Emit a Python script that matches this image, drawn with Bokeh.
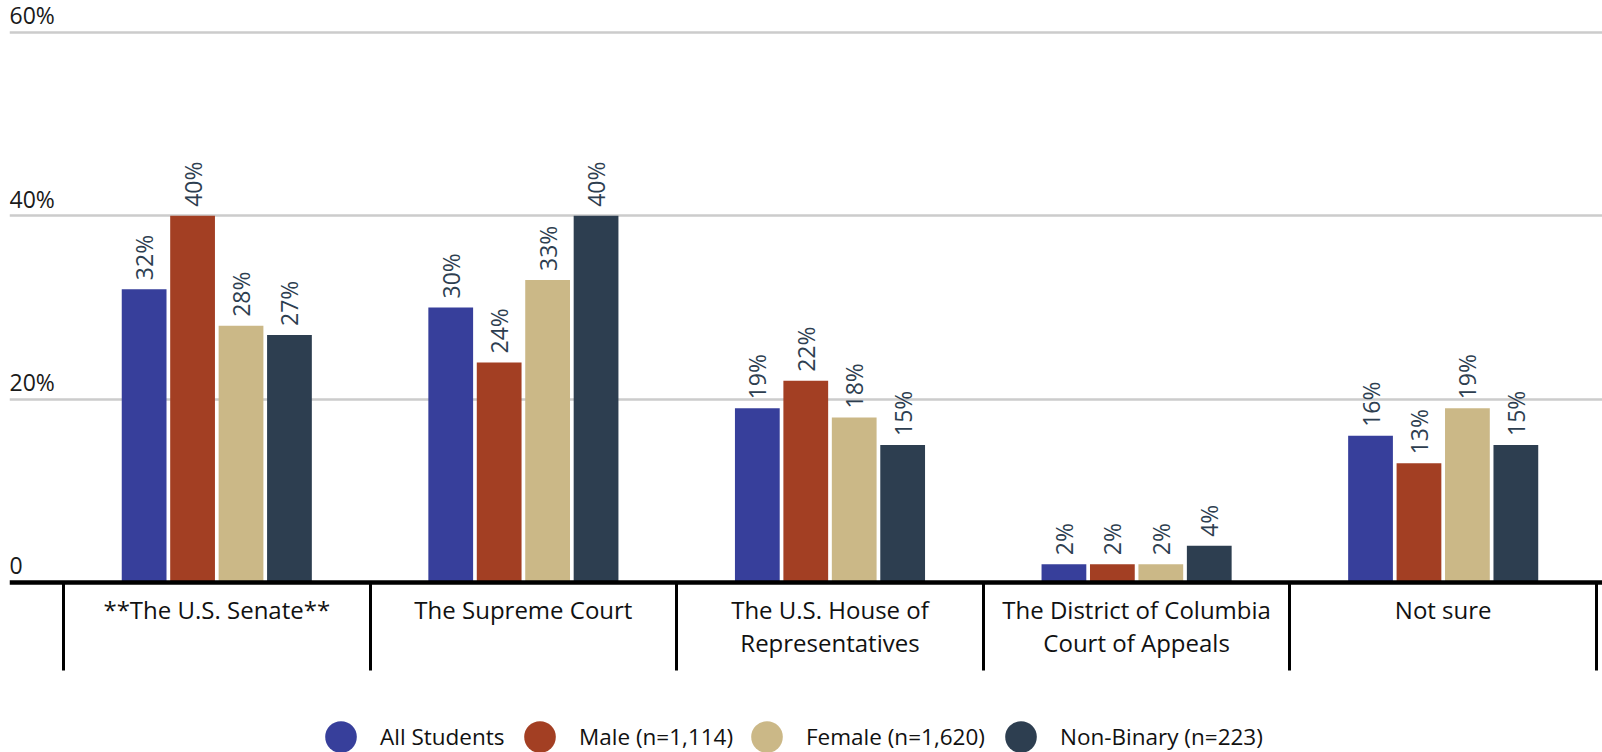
from math import pi

from bokeh.core.properties import value
from bokeh.embed import file_html
from bokeh.models import (ColumnDataSource, FixedTicker, Grid, Legend, LegendItem,
                          LinearAxis, Range1d)
from bokeh.plotting import figure
from bokeh.resources import INLINE
from bokeh.transform import dodge

# ---- data -------------------------------------------------------------
categories = [
    "**The U.S. Senate**",
    "The Supreme Court",
    "The U.S. House of\nRepresentatives",
    "The District of Columbia\nCourt of Appeals",
    "Not sure",
]
series_names = ["All Students", "Male (n=1,114)", "Female (n=1,620)", "Non-Binary (n=223)"]
all_students = [32, 30, 19, 2, 16]
male = [40, 24, 22, 2, 13]
female = [28, 33, 18, 2, 19]
non_binary = [27, 40, 15, 4, 15]
y_ticks = [0, 20, 40, 60]
y_tick_labels = ["0", "20%", "40%", "60%"]

# ---- styles -----------------------------------------------------------
colors = ["#373f9b", "#a33f23", "#cbb887", "#2d3e50"]
FONT = "Open Sans"
W, H = 1602, 752
LEFT = 9
X_START, X_END = -0.6761, 4.5196
Y_START, Y_END = -18.545, 63.49
PX_PER_Y = H / (Y_END - Y_START)
LABEL_LIFT = 17 / PX_PER_Y          # y tick labels sit just above their grid line
BAR_W = 0.146
PITCH = 0.158
LEGEND_X = [292, 491, 718, 972]     # legend item positions (px from frame left)

series = [all_students, male, female, non_binary]
keys = ["s0", "s1", "s2", "s3"]
data = {"idx": list(range(len(categories)))}
for k, vals in zip(keys, series):
    data[k] = vals
    data[k + "_lab"] = [f"{v}%" for v in vals]
    data[k + "_base"] = [0] * len(vals)
src = ColumnDataSource(data)

p = figure(
    width=W, height=H,
    x_range=Range1d(X_START, X_END), y_range=Range1d(Y_START, Y_END),
    output_backend="svg", toolbar_location=None,
    x_axis_location=None, y_axis_location=None,
    min_border=0, min_border_left=LEFT,
)
p.outline_line_color = None
p.background_fill_color = "white"
p.border_fill_color = "white"
p.xgrid.visible = False
p.ygrid.visible = False

grid = Grid(dimension=1, ticker=FixedTicker(ticks=[t for t in y_ticks if t > 0]),
            grid_line_color="#cccccc", grid_line_width=2.6)
p.add_layout(grid)

offsets = [(-1.5 + j) * PITCH for j in range(4)]
legend_renderers = []
for j, k in enumerate(keys):
    xd = dodge("idx", offsets[j], range=p.x_range)
    p.vbar(x=xd, top=k, width=BAR_W, source=src, fill_color=colors[j], line_color=None)
    p.text(x=xd, y=k, text=k + "_lab", source=src, angle=pi / 2,
           text_align="left", text_baseline="middle", y_offset=-9,
           text_font=value(FONT), text_font_size="23px", text_color="#2d3e50")
    r = p.scatter(x=xd, y=k + "_base", source=src, size=0, marker="circle",
                  fill_color=colors[j], line_alpha=0)
    legend_renderers.append(r)

# y tick labels drawn inside the plot, just above their grid lines
ysrc = ColumnDataSource({
    "x": [X_START] * len(y_ticks),
    "y": [t + LABEL_LIFT for t in y_ticks],
    "text": y_tick_labels,
})
p.text(x="x", y="y", text="text", source=ysrc,
       text_align="left", text_baseline="alphabetic",
       text_font=value(FONT), text_font_size="23px", text_color="#1a1a1a")

xaxis = LinearAxis(
    fixed_location=0,
    ticker=FixedTicker(ticks=list(range(len(categories))),
                       minor_ticks=[i - 0.5 for i in range(len(categories) + 1)]),
    major_label_overrides={i: c for i, c in enumerate(categories)},
    axis_line_color="black", axis_line_width=4.5,
    major_tick_out=0, major_tick_in=0,
    minor_tick_out=88, minor_tick_in=0,
    minor_tick_line_color="black", minor_tick_line_width=3,
    major_label_standoff=-78,
    major_label_text_font=FONT, major_label_text_font_size="24px",
    major_label_text_line_height=1.0,
    major_label_text_color="#111111",
)
p.add_layout(xaxis, "below")

for name, r, lx in zip(series_names, legend_renderers, LEGEND_X):
    legend = Legend(
        items=[LegendItem(label=name, renderers=[r])], location=(lx, -24),
        orientation="horizontal",
        glyph_width=79, glyph_height=79, label_standoff=-8, spacing=0,
        padding=0, margin=0, border_line_alpha=0, background_fill_alpha=0,
        label_text_font=FONT, label_text_font_size="22.5px", label_text_color="#111111",
    )
    p.add_layout(legend)

open("out.html", "w").write(file_html(p, INLINE))
